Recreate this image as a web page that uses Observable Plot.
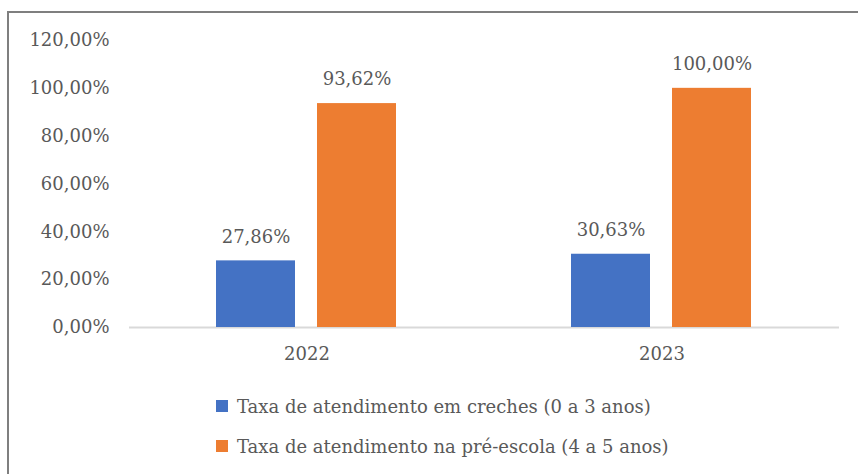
<!DOCTYPE html>
<html>
<head>
<meta charset="utf-8">
<script src="https://cdn.jsdelivr.net/npm/d3@7"></script>
<script src="https://cdn.jsdelivr.net/npm/@observablehq/plot@0.6"></script>
<style>
  html, body { margin: 0; padding: 0; background: #fff; }
  #wrap { position: relative; width: 858px; height: 474px; overflow: hidden; font-family: "DejaVu Serif", serif; }
  #frame { position: absolute; left: 7px; top: 11px; width: 860px; height: 470px; border-left: 2px solid #7f7f7f; border-top: 2px solid #7f7f7f; box-sizing: border-box; pointer-events: none; }
  #chart { position: absolute; left: 0; top: 0; }
  #legend { position: absolute; left: 216px; top: 392px; color: #595959; font-size: 18px; }
  .item { display: flex; align-items: center; height: 28px; margin-bottom: 12px; }
  .sw { width: 12px; height: 12px; margin-right: 9px; }
</style>
</head>
<body>
<div id="wrap">
  <div id="chart"></div>
  <div id="legend"></div>
  <div id="frame"></div>
</div>
<script>
const years = ["2022", "2023"];
const series = ["Taxa de atendimento em creches (0 a 3 anos)", "Taxa de atendimento na pré-escola (4 a 5 anos)"];
const creches = [0.2786, 0.3063];
const preEscola = [0.9362, 1.0];
const yTicks = [0, 0.2, 0.4, 0.6, 0.8, 1.0, 1.2];
const colors = ["#4472C4", "#ED7D31"];

const locale = d3.formatLocale({decimal: ",", thousands: ".", grouping: [3], currency: ["R$", ""]});
const fmt = locale.format(".2%");

const data = [];
years.forEach((yr, i) => {
  data.push({year: yr, series: series[0], value: creches[i]});
  data.push({year: yr, series: series[1], value: preEscola[i]});
});

const chart = Plot.plot({
  width: 858,
  height: 380,
  marginLeft: 128,
  marginRight: 19,
  marginTop: 40,
  marginBottom: 53,
  style: {fontFamily: "'DejaVu Serif', serif", fontSize: "18px", color: "#595959", background: "transparent"},
  fx: {domain: years, padding: 0, axis: "bottom", tickSize: 0, tickPadding: 20, label: null},
  x: {domain: series, paddingInner: 0.216, paddingOuter: 0.853, axis: null},
  y: {domain: [0, 1.2], ticks: yTicks, tickFormat: fmt, tickSize: 0, tickPadding: 20, label: null},
  color: {domain: series, range: colors},
  marks: [
    Plot.ruleY([0], {stroke: "#d9d9d9", strokeWidth: 2}),
    Plot.barY(data, {fx: "year", x: "series", y: "value", fill: "series"}),
    Plot.text(data, {fx: "year", x: "series", y: "value", text: d => fmt(d.value), dy: -24, fill: "#595959"})
  ]
});
document.getElementById("chart").appendChild(chart);

const legend = document.getElementById("legend");
series.forEach((s, i) => {
  const item = document.createElement("div");
  item.className = "item";
  const sw = document.createElement("div");
  sw.className = "sw";
  sw.style.background = colors[i];
  const t = document.createElement("span");
  t.textContent = s;
  item.appendChild(sw);
  item.appendChild(t);
  legend.appendChild(item);
});
</script>
</body>
</html>
